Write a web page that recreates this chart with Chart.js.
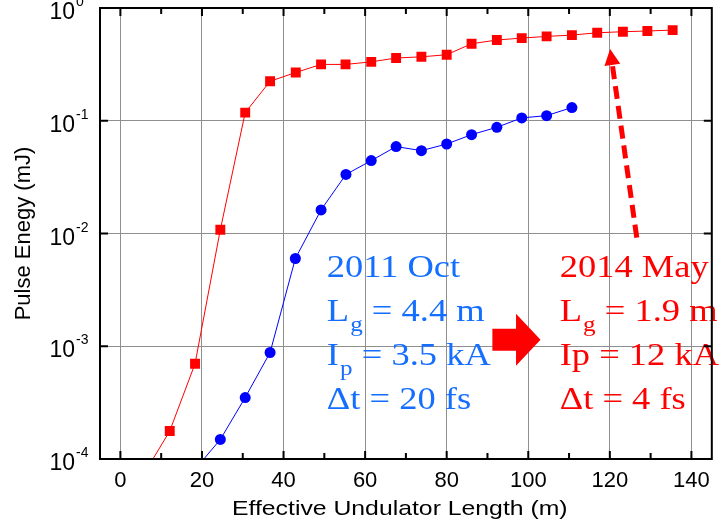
<!DOCTYPE html>
<html>
<head>
<meta charset="utf-8">
<script src="https://cdn.jsdelivr.net/npm/chart.js@4/dist/chart.umd.min.js"></script>
<style>
  body { margin: 0; background: #fff; }
  canvas { display: block; }
</style>
</head>
<body>
<canvas id="myChart" width="719" height="524"></canvas>
<script>
// 2014 May (red squares)
var xRed = [6.0, 12.1, 18.3, 24.5, 30.6, 36.7, 43.0, 49.2, 55.2, 61.5, 67.6, 73.8, 80.0, 86.1, 92.3, 98.4, 104.5, 110.7, 116.9, 123.2, 129.2, 135.4];
var yRed = [7.6e-5, 1.77e-4, 7.0e-4, 0.0108, 0.118, 0.224, 0.268, 0.316, 0.316, 0.333, 0.36, 0.369, 0.385, 0.482, 0.52, 0.541, 0.56, 0.575, 0.603, 0.616, 0.625, 0.637];
// 2011 Oct (blue circles)
var xBlue = [18.3, 24.5, 30.6, 36.7, 42.9, 49.2, 55.3, 61.5, 67.6, 73.8, 80.0, 86.1, 92.3, 98.4, 104.5, 110.7];
var yBlue = [8.1e-5, 1.49e-4, 3.51e-4, 8.8e-4, 6.0e-3, 0.0162, 0.0334, 0.0443, 0.059, 0.0543, 0.0622, 0.0753, 0.0875, 0.106, 0.111, 0.131];

var yTicks = [1e-4, 1e-3, 1e-2, 1e-1, 1];
var yTickExp = ['-4', '-3', '-2', '-1', '0'];
var xMinorTicks = [10, 30, 50, 70, 90, 110, 130];

var xTitle = 'Effective Undulator Length (m)';
var yTitle = 'Pulse Enegy (mJ)';
var blueText = ['2011 Oct', 'L|g| = 4.4 m', 'I|p| = 3.5 kA', '\u0394t = 20 fs'];
var redText = ['2014 May', 'L|g| = 1.9 m', 'Ip = 12 kA', '\u0394t = 4 fs'];

var BLUE_TXT = 'rgb(20,110,255)';
var SANS = '"Liberation Sans", Arial, sans-serif';
var SERIF = '"Liberation Serif", "Times New Roman", serif';

function pts(xs, ys){
    var out = [];
    for(var i=0; i < xs.length; i++){
        out.push({x: xs[i], y: ys[i]});
    }
    return out;
}

// text with |sub| parts, horizontally stretched like the original
function drawLine(ctx, str, x, y, color){
    ctx.save();
    ctx.translate(x, y);
    ctx.scale(1.14, 1);
    ctx.fillStyle = color;
    ctx.textAlign = 'left';
    ctx.textBaseline = 'alphabetic';
    var parts = str.split('|');
    var cx = 0;
    for(var i=0; i < parts.length; i++){
        if(i % 2 == 1){
            ctx.font = '22px ' + SERIF;
            ctx.fillText(parts[i], cx + 1, 10);
            cx += ctx.measureText(parts[i]).width + 1;
        } else {
            ctx.font = '32px ' + SERIF;
            ctx.fillText(parts[i], cx, 0);
            cx += ctx.measureText(parts[i]).width;
        }
    }
    ctx.restore();
}

var extras = {
    id: 'extras',
    afterDatasetsDraw: function(chart){
        var ctx = chart.ctx;
        var xs = chart.scales.x, ys = chart.scales.y;

        // annotation texts
        for(var i=0; i < blueText.length; i++){
            drawLine(ctx, blueText[i], xs.getPixelForValue(50.6), ys.getPixelForValue(Math.pow(10, -2.382)) + i*44.3, BLUE_TXT);
            drawLine(ctx, redText[i], xs.getPixelForValue(107.7), ys.getPixelForValue(Math.pow(10, -2.382)) + i*44.3, '#ff0000');
        }

        // big red arrow
        var bx0 = xs.getPixelForValue(91.2), bx1 = xs.getPixelForValue(97.0), bx2 = xs.getPixelForValue(103.0);
        var by = ys.getPixelForValue(Math.pow(10, -2.942));
        ctx.save();
        ctx.fillStyle = '#ff0000';
        ctx.beginPath();
        ctx.moveTo(bx0, by - 11);
        ctx.lineTo(bx1, by - 11);
        ctx.lineTo(bx1, by - 26);
        ctx.lineTo(bx2, by);
        ctx.lineTo(bx1, by + 26);
        ctx.lineTo(bx1, by + 11);
        ctx.lineTo(bx0, by + 11);
        ctx.closePath();
        ctx.fill();

        // dashed arrow to the design value
        var tx = xs.getPixelForValue(126.6), ty = ys.getPixelForValue(Math.pow(10, -2.036));
        var hx = xs.getPixelForValue(120.07), hy = ys.getPixelForValue(Math.pow(10, -0.364));
        var ang = Math.atan2(hy - ty, hx - tx);
        var hl = 16, hw = 8;
        var baseX = hx - hl*Math.cos(ang), baseY = hy - hl*Math.sin(ang);
        ctx.strokeStyle = '#ff0000';
        ctx.lineWidth = 5;
        ctx.setLineDash([13, 7]);
        ctx.beginPath();
        ctx.moveTo(tx, ty);
        ctx.lineTo(baseX, baseY);
        ctx.stroke();
        ctx.setLineDash([]);
        ctx.beginPath();
        ctx.moveTo(hx, hy);
        ctx.lineTo(baseX + hw*Math.sin(ang), baseY - hw*Math.cos(ang));
        ctx.lineTo(baseX - hw*Math.sin(ang), baseY + hw*Math.cos(ang));
        ctx.closePath();
        ctx.fill();
        ctx.restore();
    },
    afterDraw: function(chart){
        var ctx = chart.ctx;
        var xs = chart.scales.x, ys = chart.scales.y;
        var a = chart.chartArea;
        ctx.save();
        ctx.strokeStyle = '#000';
        ctx.lineWidth = 2;
        ctx.strokeRect(a.left, a.top, a.right - a.left, a.bottom - a.top);

        // inward ticks
        ctx.beginPath();
        xs.ticks.forEach(function(t){
            var px = xs.getPixelForValue(t.value);
            ctx.moveTo(px, a.bottom); ctx.lineTo(px, a.bottom - 8);
            ctx.moveTo(px, a.top); ctx.lineTo(px, a.top + 8);
        });
        xMinorTicks.forEach(function(v){
            var px = xs.getPixelForValue(v);
            ctx.moveTo(px, a.bottom); ctx.lineTo(px, a.bottom - 6);
            ctx.moveTo(px, a.top); ctx.lineTo(px, a.top + 6);
        });
        yTicks.forEach(function(v){
            var py = ys.getPixelForValue(v);
            ctx.moveTo(a.left, py); ctx.lineTo(a.left + 8, py);
            ctx.moveTo(a.right, py); ctx.lineTo(a.right - 8, py);
        });
        ctx.stroke();

        // y tick labels 10^n
        ctx.fillStyle = '#000';
        yTicks.forEach(function(v, i){
            var py = ys.getPixelForValue(v);
            ctx.font = '23px ' + SANS;
            ctx.textAlign = 'right';
            ctx.textBaseline = 'alphabetic';
            ctx.fillText('10', 75, py + 11);
            ctx.font = '14px ' + SANS;
            ctx.textAlign = 'left';
            ctx.fillText(yTickExp[i], 76, py - 2);
        });

        // x axis title (stretched like the original)
        ctx.save();
        ctx.translate(xs.getPixelForValue(68.5), a.bottom + 56);
        ctx.scale(1.18, 1);
        ctx.font = '21px ' + SANS;
        ctx.textAlign = 'center';
        ctx.fillText(xTitle, 0, 0);
        ctx.restore();
        ctx.restore();
    }
};

var ctx = document.getElementById("myChart");
var myChart = new Chart(ctx, {
    type: 'line',
    data: {
        datasets: [{
            label: '2014 May',
            data: pts(xRed, yRed),
            borderColor: '#ff0000',
            backgroundColor: '#ff0000',
            borderWidth: 1,
            pointStyle: 'rect',
            pointRadius: 7,
            pointBorderWidth: 0,
            tension: 0
        }, {
            label: '2011 Oct',
            data: pts(xBlue, yBlue),
            borderColor: '#0000ff',
            backgroundColor: '#0000ff',
            borderWidth: 1,
            pointStyle: 'circle',
            pointRadius: 5.5,
            pointBorderWidth: 0,
            tension: 0
        }]
    },
    options: {
        responsive: false,
        animation: false,
        layout: { padding: { top: 8, right: 3, left: 0, bottom: 0 } },
        plugins: { legend: { display: false }, tooltip: { enabled: false } },
        scales: {
            x: {
                type: 'linear',
                min: -5,
                max: 145,
                afterFit: function(s){ s.height = 65; },
                ticks: {
                    stepSize: 20,
                    includeBounds: false,
                    padding: 9,
                    color: '#000',
                    font: { family: SANS, size: 22 }
                },
                grid: { color: '#8f8f8f', lineWidth: 1, drawTicks: false },
                border: { display: false },
                title: { display: false }
            },
            y: {
                type: 'logarithmic',
                min: 1e-4,
                max: 1,
                afterFit: function(s){ s.width = 100; },
                afterBuildTicks: function(s){
                    s.ticks = yTicks.map(function(v){ return {value: v}; });
                },
                ticks: { display: false },
                grid: { color: '#8f8f8f', lineWidth: 1, drawTicks: false },
                border: { display: false },
                title: {
                    display: true,
                    text: yTitle,
                    color: '#000',
                    font: { family: SANS, size: 22 },
                    padding: { top: 11, bottom: 0 }
                }
            }
        }
    },
    plugins: [extras]
});
</script>
</body>
</html>
